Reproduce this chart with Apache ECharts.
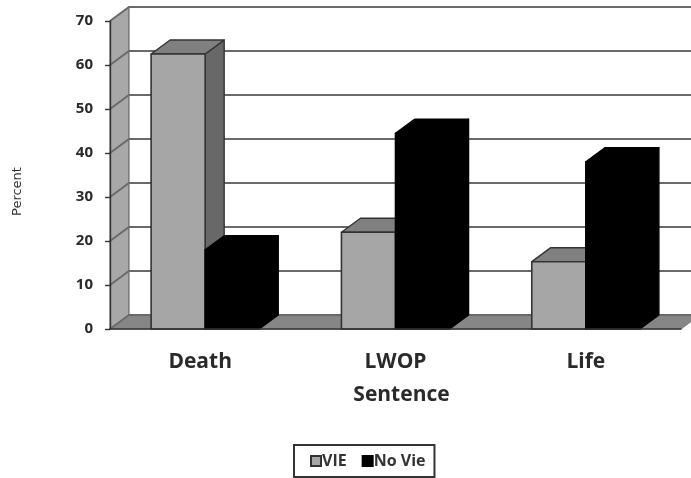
<!DOCTYPE html>
<html>
<head>
<meta charset="utf-8">
<style>html,body{margin:0;padding:0;background:#fff}#c{width:691px;height:478px;filter:blur(0.6px)}</style>
<script src="https://cdn.jsdelivr.net/npm/echarts@6/dist/echarts.min.js"></script>
</head>
<body>
<div id="c"></div>
<script>
var categories = ['Death', 'LWOP', 'Life'];
var vieValues = [62.5, 22, 15.3];
var noVieValues = [18, 44.5, 38];
var yTicks = [0, 10, 20, 30, 40, 50, 60, 70];

var DX = 19, DY = 14, BAR_FRACTION = 0.284;
var FONT = '"Open Sans", sans-serif';
var chart = echarts.init(document.getElementById('c'), null, {renderer: 'canvas'});

function poly(points, fill, stroke, lw) {
  return {type: 'polygon', shape: {points: points},
    style: {fill: fill, stroke: stroke, lineWidth: lw, lineJoin: 'round'}};
}

function wallItem(params, api) {
  var v = api.value(0);
  var p = api.coord([0, v]);
  var cs = params.coordSys;
  var x = cs.x, right = cs.x + cs.width + DX;
  var kids = [];
  if (params.dataIndex === 0) {
    var top = api.coord([0, yTicks[yTicks.length - 1]])[1];
    kids.push(poly([[x, p[1]], [x, top], [x + DX, top - DY], [x + DX, p[1] - DY]], '#a8a8a8', '#555', 1));
    kids.push(poly([[x, p[1]], [x + DX, p[1] - DY], [right, p[1] - DY], [cs.x + cs.width, p[1]]], '#868686', '#808080', 1));
  }
  kids.push({type: 'polyline', shape: {points: [[x, p[1]], [x + DX, p[1] - DY], [right, p[1] - DY]]},
    style: {fill: null, stroke: '#6a6a6a', lineWidth: 2}});
  return {type: 'group', children: kids};
}

function barItem(side, front, topFace, sideFace, stroke) {
  return function (params, api) {
    var catIndex = api.value(0);
    var topPt = api.coord([catIndex, api.value(1)]);
    var base = api.coord([catIndex, 0]);
    var w = api.size([1, 0])[0] * BAR_FRACTION;
    var x0 = side < 0 ? topPt[0] - w : topPt[0];
    var x1 = x0 + w, yt = topPt[1], yb = base[1];
    return {type: 'group', children: [
      poly([[x1, yb], [x1 + DX, yb - DY], [x1 + DX, yt - DY], [x1, yt]], sideFace, stroke, 1.4),
      poly([[x0, yt], [x0 + DX, yt - DY], [x1 + DX, yt - DY], [x1, yt]], topFace, stroke, 1.4),
      poly([[x0, yb], [x0, yt], [x1, yt], [x1, yb]], front, stroke, 1.6)
    ]};
  };
}

function rows(values) {
  return values.map(function (v, i) { return [i, v]; });
}

chart.setOption({
  animation: false,
  backgroundColor: '#fff',
  grid: {left: 110, right: 10, top: 21, bottom: 149},
  legend: {
    data: ['VIE', 'No Vie'], left: 294, top: 445, icon: 'rect',
    padding: [8, 9, 8, 16],
    borderColor: '#333', borderWidth: 2, borderRadius: 0,
    itemWidth: 10, itemHeight: 10, itemGap: 15,
    textStyle: {fontFamily: FONT, fontWeight: 'bold', fontSize: 16, color: '#333', padding: [0, 0, 0, -4]}
  },
  xAxis: {
    type: 'category', z: 3,
    data: categories.map(function (c, i) {
      return i === 0 ? {value: c, textStyle: {padding: [0, 10, 0, 0]}} : c;
    }),
    axisLine: {lineStyle: {color: '#333', width: 1.6}},
    axisTick: {length: 7, lineStyle: {color: '#333', width: 1.4}},
    axisLabel: {margin: 23, fontFamily: FONT, fontWeight: 'bold', fontSize: 21, color: '#2a2a2a'},
    name: 'Sentence', nameLocation: 'middle', nameGap: 56,
    nameTextStyle: {fontFamily: FONT, fontWeight: 'bold', fontSize: 21, color: '#2a2a2a', padding: [0, 0, 0, 12]}
  },
  yAxis: {
    type: 'value', min: 0, max: 70, interval: 10, z: 3,
    axisLine: {show: true, lineStyle: {color: '#333', width: 1.4}},
    axisTick: {show: true, length: 5, lineStyle: {color: '#333', width: 1.4}},
    splitLine: {show: false},
    axisLabel: {margin: 17, fontFamily: '"Noto Sans", sans-serif', fontWeight: 'bold', fontSize: 15, color: '#2a2a2a'},
    name: 'Percent', nameLocation: 'middle', nameGap: 86,
    nameTextStyle: {fontFamily: '"DejaVu Sans", sans-serif', fontSize: 13, color: '#333', padding: [0, 33, 0, 0]}
  },
  series: [
    {name: 'wall', type: 'custom', z: 1, silent: true, clip: false, renderItem: wallItem,
      data: yTicks.map(function (t) { return [t]; }), encode: {y: 0}},
    {name: 'VIE', type: 'custom', z: 2, clip: false, data: rows(vieValues), encode: {x: 0, y: 1},
      itemStyle: {color: '#a6a6a6', borderColor: '#333', borderWidth: 1.5},
      renderItem: barItem(-1, '#a6a6a6', '#808080', '#686868', '#333')},
    {name: 'No Vie', type: 'custom', z: 2, clip: false, data: rows(noVieValues), encode: {x: 0, y: 1},
      itemStyle: {color: '#000', borderColor: '#000', borderWidth: 1},
      renderItem: barItem(1, '#000', '#000', '#000', '#000')}
  ]
});
</script>
</body>
</html>
